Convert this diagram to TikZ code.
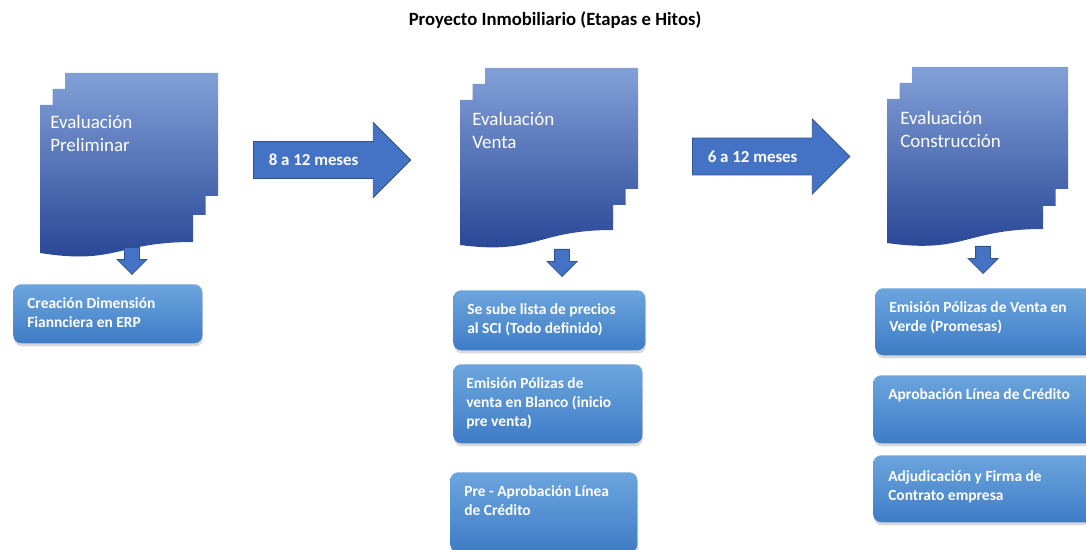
\documentclass[tikz,border=0pt]{standalone}
\usepackage{fontspec}
\setmainfont{Carlito}
\usetikzlibrary{shapes.arrows,shadows}

\definecolor{hojaarriba}{RGB}{130,160,215}
\definecolor{hojaabajo}{RGB}{38,68,148}
\definecolor{hitoarriba}{RGB}{108,165,222}
\definecolor{hitoabajo}{RGB}{62,124,198}
\definecolor{flecha}{RGB}{68,114,196}
\definecolor{flechaborde}{RGB}{47,82,143}

\tikzset{
  hoja/.style={top color=hojaarriba, bottom color=hojaabajo, draw=none},
  etapa/.style={anchor=north west, inner sep=0pt, align=left, text=white, font=\fontsize{13.5}{16.5}\selectfont},
  hito/.style={anchor=north west, inner sep=0pt, rounded corners=0.2cm, top color=hitoarriba, bottom color=hitoabajo, drop shadow={opacity=0.3, shadow xshift=0.5pt, shadow yshift=-2.2pt}},
  hitotxt/.style={anchor=north west, inner sep=0pt, align=left, text=white, font=\bfseries\fontsize{11}{13.5}\selectfont},
  plazo/.style={single arrow, single arrow head extend=0.475cm, fill=flecha, draw=flechaborde, line width=0.6pt, text=white, font=\bfseries\fontsize{12}{14}\selectfont, text width=2.7cm, align=flush left, text height=0.3cm, text depth=0cm, inner ysep=0.3cm, inner xsep=0.375cm},
  baja/.style={single arrow, shape border rotate=270, minimum height=0.675cm, single arrow head extend=0.1875cm, inner xsep=0.175cm, inner ysep=0pt, fill=flecha, draw=flechaborde, line width=0.6pt, anchor=tip}
}

\begin{document}
\begin{tikzpicture}[x=0.025cm,y=-0.025cm]

\useasboundingbox (0,0) rectangle (1086,550);
\clip (0,0) rectangle (1086,550);

\node[font=\bfseries\fontsize{13.3}{16}\selectfont] (titulo) at (555,20) {Proyecto Inmobiliario (Etapas e Hitos)};

\path[hoja] (40,105) -- (52.5,105) -- (52.5,89) -- (65,89) -- (65,73) -- (218,73) -- (218,196) -- (205.5,196) -- (205.5,215) -- (193,215) -- (193,242) .. controls (116.5,242) and (116.5,265) .. (40,253) -- cycle;
\node[etapa] (e1) at (50,115) {Evaluación\\Preliminar};

\path[hoja] (460,100) -- (472.5,100) -- (472.5,84) -- (485,84) -- (485,68) -- (638,68) -- (638,189) -- (625.5,189) -- (625.5,205) -- (613,205) -- (613,230) .. controls (536.5,230) and (536.5,255) .. (460,245) -- cycle;
\node[etapa] (e2) at (472,112) {Evaluación\\Venta};

\path[hoja] (887,99) -- (899.5,99) -- (899.5,83) -- (912,83) -- (912,67) -- (1068,67) -- (1068,189) -- (1055.5,189) -- (1055.5,206) -- (1043,206) -- (1043,229) .. controls (965,229) and (965,254) .. (887,243) -- cycle;
\node[etapa] (e3) at (900,111) {Evaluación\\Construcción};

\node[plazo, anchor=tail] (p1) at (253,160) {8 a 12 meses};
\node[plazo, anchor=tail] (p2) at (692,156.5) {6 a 12 meses};

\node[baja] (b1) at (132,275) {};
\node[baja] (b2) at (562,277) {};
\node[baja] (b3) at (983,274) {};

\node[hito, minimum width=4.725cm, minimum height=1.475cm] (h1) at (13,284) {};
\node[hitotxt] (t1) at ([shift={(14,13)}]h1.north west) {Creación Dimensión\\Fiannciera en ERP};

\node[hito, minimum width=4.8cm, minimum height=1.5cm] (h2) at (453,290) {};
\node[hitotxt] (t2) at ([shift={(14,13)}]h2.north west) {Se sube lista de precios\\al SCI (Todo definido)};

\node[hito, minimum width=4.725cm, minimum height=1.975cm] (h3) at (453,364) {};
\node[hitotxt] (t3) at ([shift={(13,13)}]h3.north west) {Emisión Pólizas de\\venta en Blanco (inicio\\pre venta)};

\node[hito, minimum width=4.675cm, minimum height=2cm] (h4) at (450,472) {};
\node[hitotxt] (t4) at ([shift={(14,13)}]h4.north west) {Pre - Aprobación Línea\\de Crédito};

\node[hito, minimum width=5.5cm, minimum height=1.675cm] (h5) at (875,288) {};
\node[hitotxt] (t5) at ([shift={(14,13)}]h5.north west) {Emisión Pólizas de Venta en\\Verde (Promesas)};

\node[hito, minimum width=5.55cm, minimum height=1.7cm] (h6) at (873,375) {};
\node[hitotxt] (t6) at ([shift={(15,13)}]h6.north west) {Aprobación Línea de Crédito};

\node[hito, minimum width=5.55cm, minimum height=1.675cm] (h7) at (873,455) {};
\node[hitotxt] (t7) at ([shift={(15,15)}]h7.north west) {Adjudicación y Firma de\\Contrato empresa};

\end{tikzpicture}
\end{document}
